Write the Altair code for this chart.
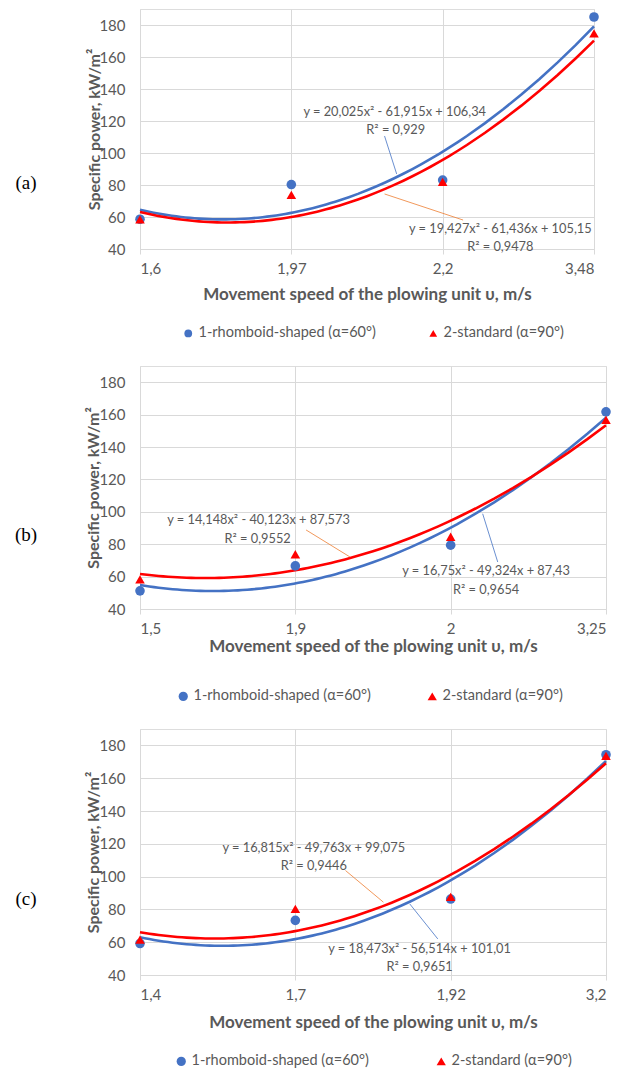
import json
import altair as alt
import pandas as pd

# ---------------- data ----------------
series_a = ["1-rhomboid-shaped (α=60°)", "2-standard  (α=90°)"]
series_b = ["1-rhomboid-shaped (α=60°)", "2-standard (α=90°)"]
series_c = ["1-rhomboid-shaped  (α=60°)", "2-standard (α=90°)"]

x_labels_a = ["1,6", "1,97", "2,2", "3,48"]
rhomb_a = [58.6, 80.3, 83.1, 185.0]
std_a = [58.5, 73.8, 81.9, 174.8]

x_labels_b = ["1,5", "1,9", "2", "3,25"]
rhomb_b = [51.2, 66.6, 79.4, 161.7]
std_b = [58.3, 73.8, 84.6, 156.7]

x_labels_c = ["1,4", "1,7", "1,92", "3,2"]
rhomb_c = [59.2, 73.3, 86.3, 174.3]
std_c = [61.6, 80.3, 87.6, 173.6]

eq_a = [["y = 20,025x² - 61,915x + 106,34", "R² = 0,929"],
        ["y = 19,427x² - 61,436x + 105,15", "R² = 0,9478"]]
eq_b = [["y = 16,75x² - 49,324x + 87,43", "R² = 0,9654"],
        ["y = 14,148x² - 40,123x + 87,573", "R² = 0,9552"]]
eq_c = [["y = 18,473x² - 56,514x + 101,01", "R² = 0,9651"],
        ["y = 16,815x² - 49,763x + 99,075", "R² = 0,9446"]]

# label anchors (data units: category index, value) for [rhomboid, standard]
eq_pos_a = [[(2.683, 125.6), (2.69, 114.4)], [(3.381, 52.5), (3.381, 41.3)]]
eq_pos_b = [[(3.228, 63.3), (3.228, 51.9)], [(1.763, 94.8), (1.757, 83.4)]]
eq_pos_c = [[(2.80, 55.9), (2.80, 45.1)], [(2.119, 117.5), (2.119, 106.4)]]

leader_a = [(2.616, 110.6, 2.696, 86.9), (2.616, 74.4, 3.135, 58.1)]
leader_b = [(3.303, 69.0, 3.206, 98.8), (2.069, 88.8, 2.352, 72.1)]
leader_c = [(2.917, 62.0, 2.737, 83.3), (2.323, 103.7, 2.567, 84.4)]

panel_tags = ["(a)", "(b)", "(c)"]
x_title = "Movement speed of the plowing unit υ, m/s"
y_title = "Specific power, kW/m²"

BLUE = "#4472C4"
RED = "#FF0000"
ORANGE = "#ED7D31"
GREY = "#595959"
GRID = "#D9D9D9"
FONT = "Lato"


def panel(labels, rhomb, std, names, eqs, eq_pos, leaders, tag, tag_y,
          width, height, ytitle_pad, xtitle_pad, legend_x, legend_y,
          col_pad, sym_size):
    idx = [1, 2, 3, 4]
    df = pd.DataFrame({
        "idx": idx + idx,
        "v": rhomb + std,
        "series": [names[0]] * 4 + [names[1]] * 4,
    })
    lab_expr = json.dumps(labels).replace('"', "'") + "[datum.value-1]"
    x_enc = alt.X("idx:Q", title=x_title,
                  scale=alt.Scale(domain=[1, 4], nice=False, zero=False),
                  axis=alt.Axis(values=idx, labelExpr=lab_expr, grid=True,
                                gridColor=GRID, domainColor=GRID, tickColor=GRID,
                                tickSize=5, labelPadding=7, labelFont=FONT,
                                labelFontSize=15, labelColor=GREY,
                                titleFont=FONT, titleFontSize=17,
                                titleFontWeight="bold", titleColor=GREY,
                                titlePadding=xtitle_pad))
    y_enc = alt.Y("v:Q", title=y_title,
                  scale=alt.Scale(domain=[40, 190], nice=False, zero=False),
                  axis=alt.Axis(values=list(range(40, 181, 20)), grid=True,
                                gridColor=GRID, domain=False, ticks=False,
                                tickSize=0, labelPadding=15, labelFont=FONT,
                                labelFontSize=15, labelColor=GREY,
                                titleFont=FONT, titleFontSize=16,
                                titleFontWeight="bold", titleColor=GREY,
                                titlePadding=ytitle_pad))

    line_layers = []
    for name, col in zip(names, [BLUE, RED]):
        line_layers.append(
            alt.Chart(df).transform_filter(alt.datum.series == name)
            .transform_regression("idx", "v", method="poly", order=2, extent=[1, 4])
            .mark_line(strokeWidth=2.6, color=col)
            .encode(x=x_enc, y=y_enc)
        )

    points = alt.Chart(df).mark_point(filled=True, opacity=1, size=92).encode(
        x=x_enc, y=y_enc,
        color=alt.Color("series:N", scale=alt.Scale(domain=names, range=[BLUE, RED]),
                        legend=alt.Legend(orient="none", legendX=legend_x,
                                          legendY=legend_y, direction="horizontal",
                                          title=None, labelFont=FONT,
                                          labelFontSize=14.5, labelColor=GREY,
                                          labelLimit=400,
                                          symbolSize=sym_size, columnPadding=col_pad,
                                          labelOffset=3)),
        shape=alt.Shape("series:N",
                        scale=alt.Scale(domain=names, range=["circle", "triangle-up"])),
    )

    trows = []
    for s in range(2):
        for k in range(2):
            trows.append({"idx": eq_pos[s][k][0], "v": eq_pos[s][k][1], "t": eqs[s][k]})
    texts = alt.Chart(pd.DataFrame(trows)).mark_text(
        font=FONT, fontSize=12.8, color=GREY, align="center", baseline="middle"
    ).encode(x=x_enc, y=y_enc, text="t:N")

    rules = []
    for s, col in enumerate([BLUE, ORANGE]):
        x1, y1, x2, y2 = leaders[s]
        rdf = pd.DataFrame({"idx": [x1], "v": [y1], "idx2": [x2], "v2": [y2]})
        rules.append(alt.Chart(rdf).mark_rule(color=col, strokeWidth=0.8).encode(
            x=x_enc, y=y_enc, x2="idx2:Q", y2="v2:Q"))

    tag_chart = alt.Chart(pd.DataFrame({"t": [tag]})).mark_text(
        font="Liberation Serif", fontSize=19, color="black", align="center",
        baseline="middle"
    ).encode(x=alt.value(-114), y=alt.value(tag_y), text="t:N")

    return alt.layer(*line_layers, *rules, texts, points, tag_chart).properties(
        width=width, height=height)


pa = panel(x_labels_a, rhomb_a, std_a, series_a, eq_a, eq_pos_a, leader_a, panel_tags[0], 174,
           454, 240, -4, 10, 41, 317, 50, 60)
pb = panel(x_labels_b, rhomb_b, std_b, series_b, eq_b, eq_pos_b, leader_b, panel_tags[1], 169,
           466, 243, -3, 2, 36, 323, 54, 85)
pc = panel(x_labels_c, rhomb_c, std_c, series_c, eq_c, eq_pos_c, leader_c, panel_tags[2], 170,
           466, 246, -3, 12, 34, 325, 61, 85)

chart = alt.vconcat(pa, pb, pc, spacing=24).resolve_scale(
    x="independent", y="independent", color="independent", shape="independent"
).resolve_legend(color="independent", shape="independent").properties(
    padding={"left": 6, "top": 0, "right": 0, "bottom": 0}
).configure_view(stroke=None).configure(background="white")

chart.save("out.html", embed_options={"renderer": "svg", "actions": False})
